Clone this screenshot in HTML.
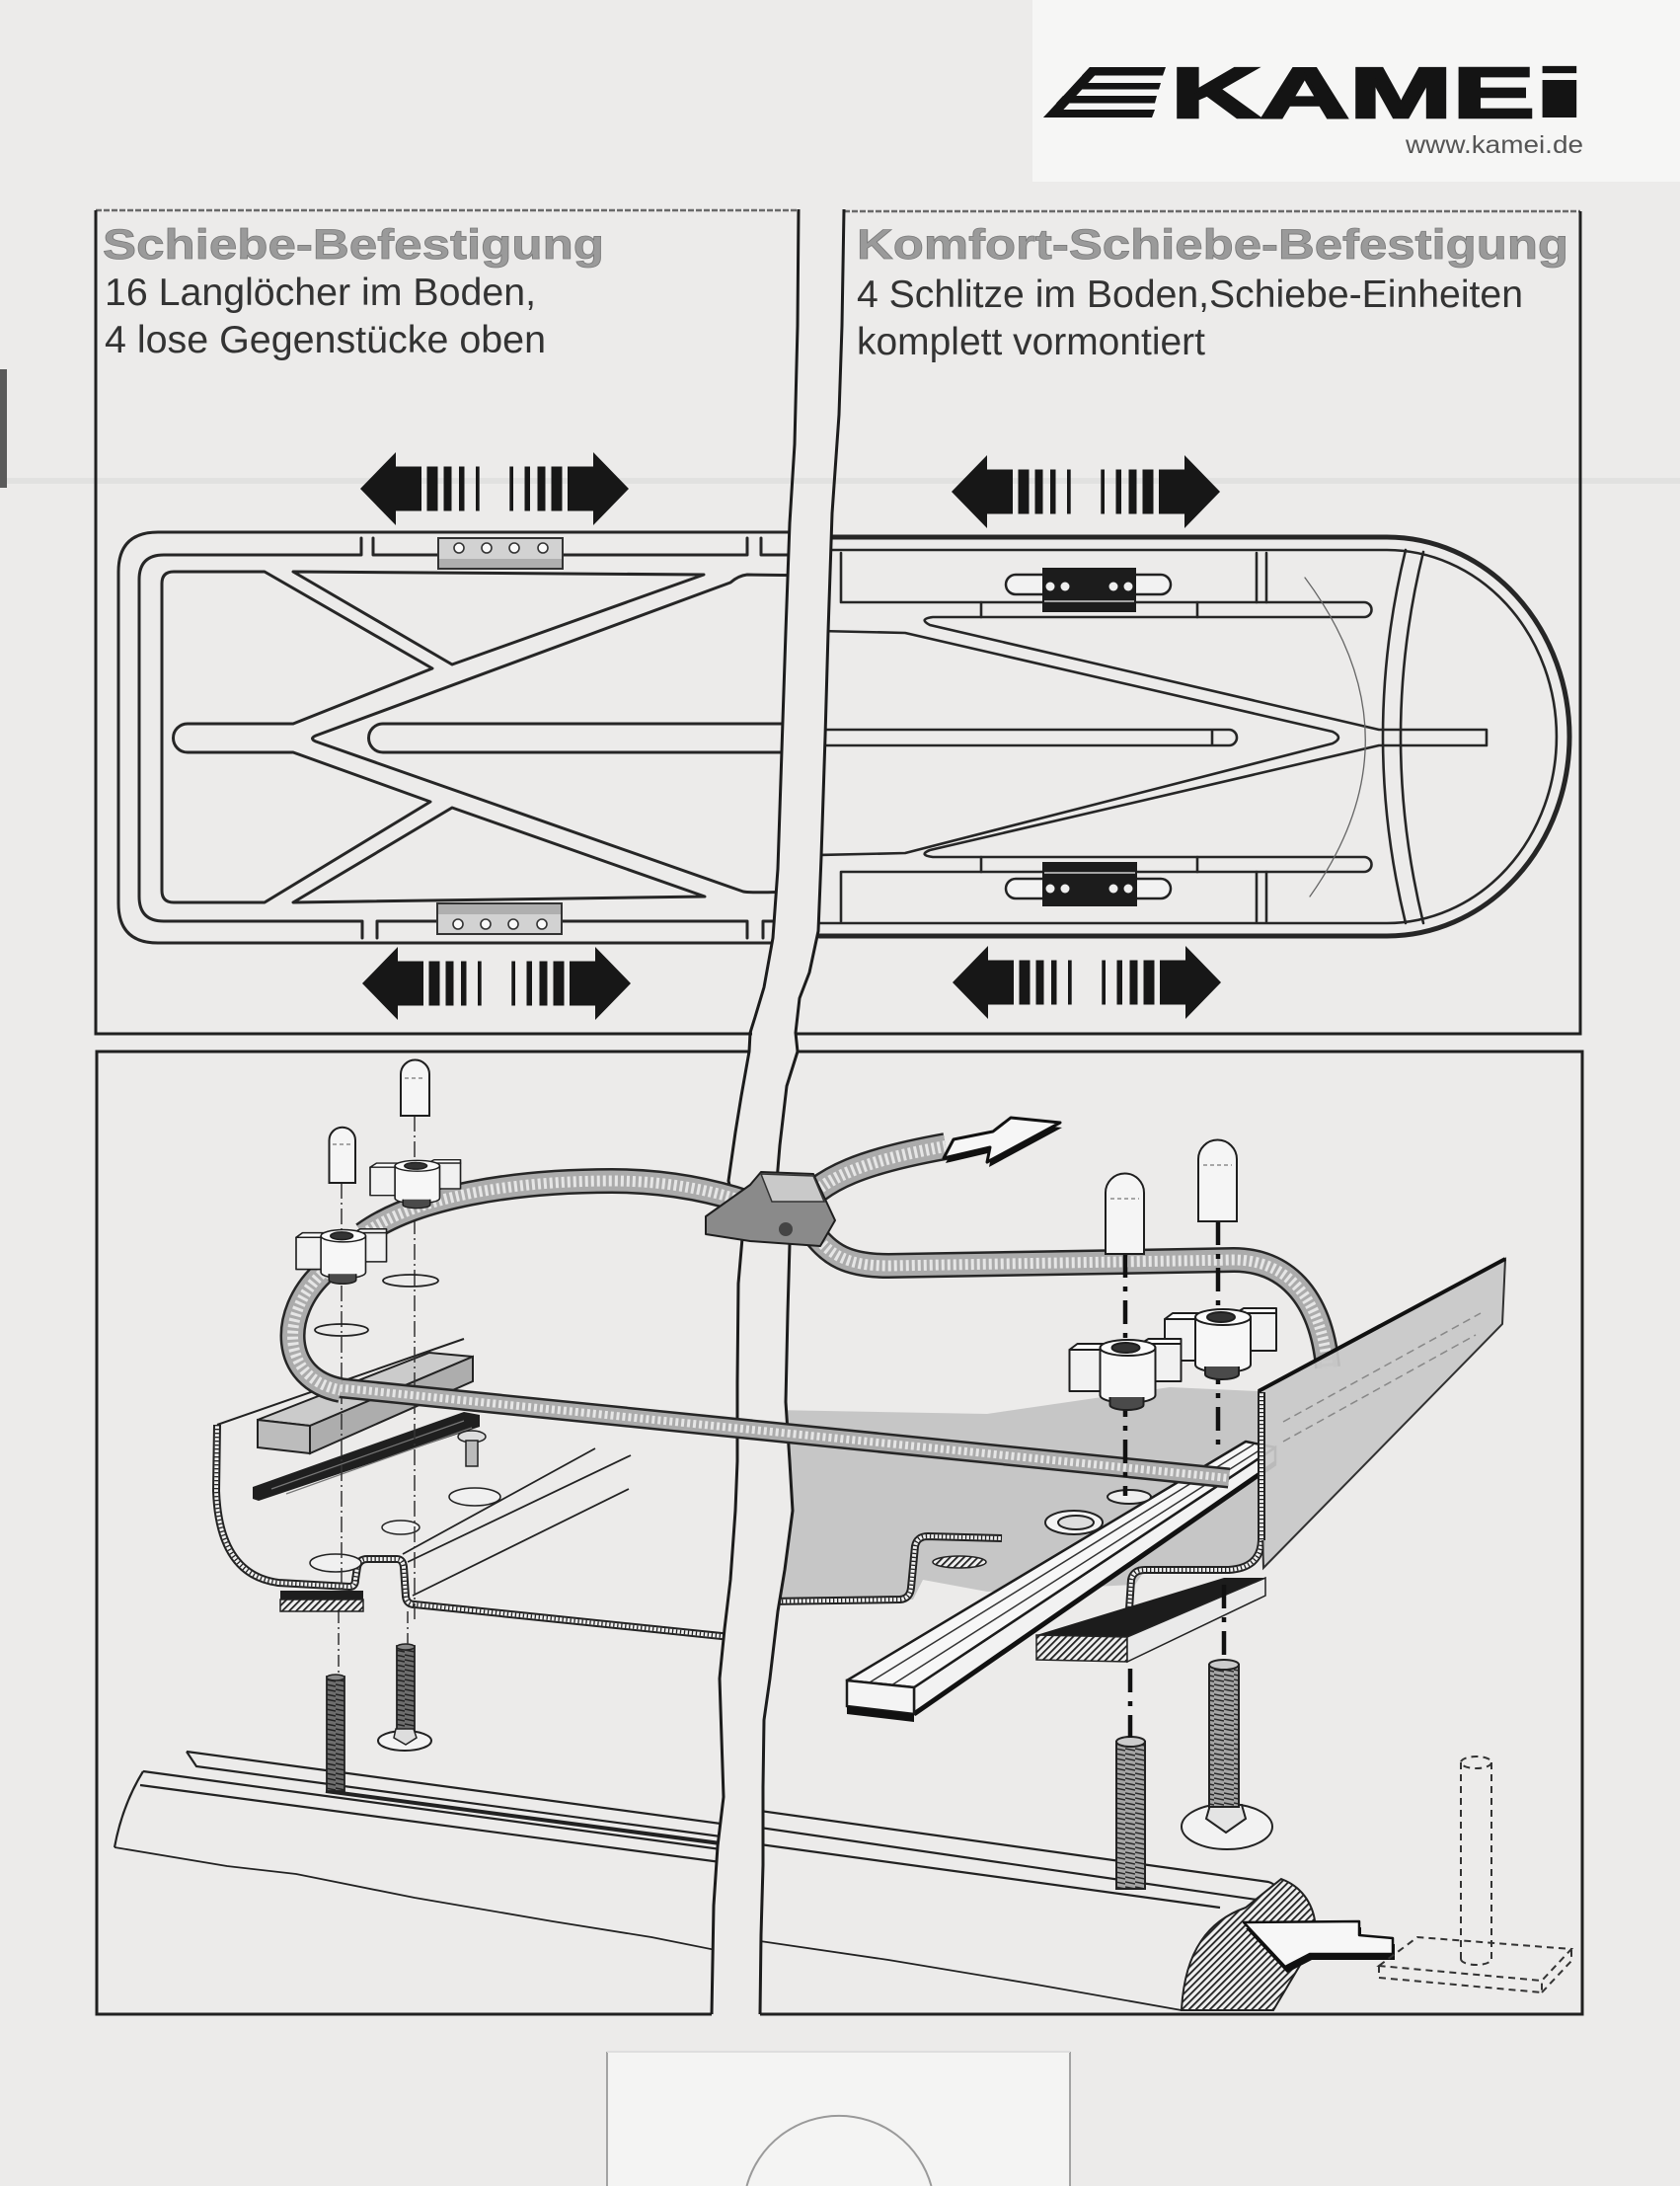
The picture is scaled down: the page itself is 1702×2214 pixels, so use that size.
<!DOCTYPE html>
<html><head><meta charset="utf-8">
<style>
html,body{margin:0;padding:0;background:#ecebea;overflow:hidden;}
svg{display:block;}
</style></head><body>
<svg xmlns="http://www.w3.org/2000/svg" xmlns:xlink="http://www.w3.org/1999/xlink" width="1702" height="2214" viewBox="0 0 1702 2214">
<defs>
<clipPath id="cl"><polygon points="0,0 809,0 809,212 808,330 805,450 800,530 796,640 792,760 788,880 783,950 774,1000 765,1030 760,1046 759,1065 751,1110 745,1147 738,1196 752,1254 748,1300 747,1400 747,1480 745,1530 740,1600 734,1650 729,1700 731,1760 733,1820 727,1870 723,1930 721,2040 721,2214 0,2214"/></clipPath>
<clipPath id="cr"><polygon points="855,0 855,212 853,330 850,420 843,520 839,640 836,746 832,868 829,943 820,985 810,1011 806,1046 808,1065 797,1100 790,1160 787,1196 800,1260 798,1330 796,1420 800,1480 803,1530 795,1590 788,1632 780,1700 774,1742 773,1810 773,1889 771,1960 770,2040 770,2214 1702,2214 1702,0"/></clipPath>
<pattern id="hat" width="5" height="5" patternUnits="userSpaceOnUse" patternTransform="rotate(45)"><rect width="5" height="5" fill="#f0f0f0"/><rect width="1.8" height="5" fill="#222"/></pattern>
<pattern id="thr" width="10" height="5" patternUnits="userSpaceOnUse"><rect width="10" height="5" fill="#a5a5a5"/><line x1="0" y1="1" x2="10" y2="3" stroke="#2a2a2a" stroke-width="1.5"/></pattern>
<pattern id="thrD" width="10" height="5" patternUnits="userSpaceOnUse"><rect width="10" height="5" fill="#6e6e6e"/><line x1="0" y1="1" x2="10" y2="3" stroke="#222" stroke-width="1.5"/></pattern>
<g id="arr" fill="#171717">
 <polygon points="-136,0 -100,-37 -100,-22.5 -74,-22.5 -74,22.5 -100,22.5 -100,37"/>
 <rect x="-68.5" y="-22.5" width="11" height="45"/>
 <rect x="-51.5" y="-22.5" width="8" height="45"/>
 <rect x="-36" y="-22.5" width="5.5" height="45"/>
 <rect x="-19" y="-22.5" width="3.7" height="45"/>
 <polygon points="136,0 100,-37 100,-22.5 74,-22.5 74,22.5 100,22.5 100,37"/>
 <rect x="57.5" y="-22.5" width="11" height="45"/>
 <rect x="43.5" y="-22.5" width="8" height="45"/>
 <rect x="30.5" y="-22.5" width="5.5" height="45"/>
 <rect x="15.3" y="-22.5" width="3.7" height="45"/>
</g>
<g id="knob" stroke="#1e1e1e" stroke-width="2" stroke-linejoin="round" vector-effect="non-scaling-stroke">
 <path d="M0 12 L8 6 L44 6 L40 12 Z" fill="#ffffff"/>
 <path d="M0 12 L40 12 L40 54 L0 54 Z" fill="#f1f1f1"/>
 <path d="M72 6 L80 1 L113 1 L113 6 Z" fill="#ffffff"/>
 <path d="M72 6 L113 6 L113 44 L72 44 Z" fill="#f1f1f1"/>
 <path d="M31 10 L31 58 A28 8 0 0 0 87 58 L87 10 Z" fill="#f7f7f7"/>
 <ellipse cx="59" cy="10" rx="28" ry="8" fill="#fbfbfb"/>
 <ellipse cx="57" cy="10" rx="14" ry="5" fill="#333"/>
 <path d="M41 60 L41 68 A17 5 0 0 0 75 68 L75 60" fill="#4a4a4a"/>
</g>
<path id="s1" d="M368 1250 C420 1212 520 1196 620 1196 C680 1196 730 1207 775 1224"/>
<path id="s2" d="M326 1290 C284 1330 284 1396 345 1408"/>
<path id="s3" d="M338 1405 L1245 1497"/>
<path id="s4" d="M822 1246 C840 1272 860 1282 900 1282 L1250 1276 C1300 1276 1338 1310 1345 1385"/>
<path id="s5" d="M806 1228 C830 1192 880 1175 958 1161"/>
<path id="hL" d="M220 1443 L219 1510 Q222 1595 282 1603 L354 1607 Q360 1607 360 1600 L362 1587 Q364 1579 372 1579 L402 1579 Q408 1579 409 1587 L411 1617 Q412 1625 420 1625 L760 1660"/>
<path id="hR1" d="M780 1622 L912 1620 Q922 1619 923 1608 L927 1566 Q929 1556 940 1556 L1015 1558"/>
<path id="hR2" d="M1142 1660 L1146 1600 Q1148 1590 1160 1590 L1245 1590 Q1277 1588 1278 1560 L1278 1410"/>
</defs>

<!-- background -->
<rect x="0" y="0" width="1702" height="2214" fill="#ecebea"/>
<rect x="1046" y="0" width="656" height="184" fill="#f6f6f5"/>
<rect x="0" y="484" width="1702" height="6" fill="#dadad9" opacity="0.6"/>
<rect x="0" y="374" width="7" height="120" fill="#5a5a5a"/>

<!-- logo -->
<g fill="#141414">
 <polygon points="1104,68 1117,68 1070,119 1057,119"/>
 <polygon points="1104,68 1181,68 1178,76.5 1096,76.5"/>
 <polygon points="1090,84 1176,84 1174,90.5 1084,90.5"/>
 <polygon points="1077,97 1172,97 1170,104.5 1070,104.5"/>
 <polygon points="1065,111 1170,111 1167,119 1057,119"/>
</g>
<text x="1186" y="119" font-family="'Liberation Sans', Arial, sans-serif" font-size="72" font-weight="bold" fill="#141414" stroke="#141414" stroke-width="2.5" textLength="369" lengthAdjust="spacingAndGlyphs">KAME</text>
<text transform="translate(1545,119) scale(3.5,1)" font-family="'Liberation Sans', Arial, sans-serif" font-size="72" font-weight="bold" fill="#141414">i</text>
<text x="1424" y="155" font-family="'Liberation Sans', Arial, sans-serif" font-size="25" fill="#555" textLength="180" lengthAdjust="spacingAndGlyphs">www.kamei.de</text>

<!-- panel texts -->
<g font-family="'Liberation Sans', Arial, sans-serif">
 <text x="104" y="262" font-size="43" font-weight="bold" fill="#9a9a9a" stroke="#7a7a7a" stroke-width="0.8" textLength="508" lengthAdjust="spacingAndGlyphs">Schiebe-Befestigung</text>
 <text x="106" y="309" font-size="39" fill="#333" textLength="437" lengthAdjust="spacingAndGlyphs">16 Langlöcher im Boden,</text>
 <text x="106" y="357" font-size="39" fill="#333" textLength="447" lengthAdjust="spacingAndGlyphs">4 lose Gegenstücke oben</text>
 <text x="868" y="262" font-size="43" font-weight="bold" fill="#9a9a9a" stroke="#7a7a7a" stroke-width="0.8" textLength="721" lengthAdjust="spacingAndGlyphs">Komfort-Schiebe-Befestigung</text>
 <text x="868" y="311" font-size="39" fill="#333" textLength="675" lengthAdjust="spacingAndGlyphs">4 Schlitze im Boden,Schiebe-Einheiten</text>
 <text x="868" y="359" font-size="39" fill="#333" textLength="353" lengthAdjust="spacingAndGlyphs">komplett vormontiert</text>
</g>

<!-- panel borders -->
<g fill="none" stroke="#202020" stroke-width="3">
 <path d="M97 213 L809 213 M855 214 L1601 214" stroke="#6a6a6a" stroke-width="2.5" stroke-dasharray="6 2"/>
 <path d="M97 213 L97 1047 L762 1047"/>
 <path d="M806 1047 L1601 1047 L1601 214"/>
 <path d="M759 1065 L98 1065 L98 2040 L721 2040"/>
 <path d="M808 1065 L1603 1065 L1603 2040 L770 2040"/>
</g>

<!-- arrows -->
<use href="#arr" xlink:href="#arr" transform="translate(501,495)"/>
<use href="#arr" xlink:href="#arr" transform="translate(503,996)"/>
<use href="#arr" xlink:href="#arr" transform="translate(1100,498)"/>
<use href="#arr" xlink:href="#arr" transform="translate(1101,995)"/>

<!-- LEFT TOP FRAME -->
<g clip-path="url(#cl)">
 <g fill="none" stroke="#262626" stroke-width="3" stroke-linejoin="round" stroke-linecap="round">
  <path d="M830 539 L160 539 Q120 539 120 579 L120 915 Q120 955 160 955 L830 955"/>
  <path d="M366 545 L366 562 L166 562 Q141 562 141 587 L141 908 Q141 933 166 933 L367 933 L367 950"/>
  <path d="M378 545 L378 562 L757 562 L757 545"/>
  <path d="M771 545 L771 562 L830 562"/>
  <path d="M382 950 L382 933 L757 933 L757 950"/>
  <path d="M773 950 L773 933 L830 933"/>
  <path d="M176 579 L268 579 L438 677 L297 733 L190 733 A14.5 14.5 0 0 0 190 762 L297 762 L436 812 L268 914 L176 914 Q164 914 164 902 L164 591 Q164 579 176 579 Z"/>
  <path d="M297 579 L713 582 L458 673 Z"/>
  <path d="M297 914 L714 908 L458 818 Z"/>
  <path d="M830 583 L757 582 Q748 583 740 590 L320 745 Q313 748 320 751 L753 903 Q762 905 830 902"/>
  <path d="M830 733 L388 733 A14.5 14.5 0 0 0 388 762 L830 762"/>
 </g>
 <rect x="444" y="545" width="126" height="31" fill="#d2d2d2" stroke="#333" stroke-width="2"/>
 <rect x="445" y="566" width="124" height="9" fill="#afafaf"/>
 <g fill="#fafafa" stroke="#333" stroke-width="1.6">
  <circle cx="465" cy="555" r="5"/><circle cx="493" cy="555" r="5"/><circle cx="521" cy="555" r="5"/><circle cx="550" cy="555" r="5"/>
 </g>
 <rect x="443" y="915" width="126" height="31" fill="#d2d2d2" stroke="#333" stroke-width="2"/>
 <rect x="444" y="916" width="124" height="10" fill="#afafaf"/>
 <g fill="#fafafa" stroke="#333" stroke-width="1.6">
  <circle cx="464" cy="936" r="5"/><circle cx="492" cy="936" r="5"/><circle cx="520" cy="936" r="5"/><circle cx="549" cy="936" r="5"/>
 </g>
</g>

<!-- RIGHT TOP FRAME -->
<g clip-path="url(#cr)">
 <g fill="none" stroke="#262626" stroke-width="2.6" stroke-linejoin="round" stroke-linecap="round">
  <path d="M830 544 L1405 544 A185 202 0 0 1 1405 948 L830 948" stroke-width="5"/>
  <path d="M830 557 L1405 557 A172 189 0 0 1 1405 935 L830 935"/>
  <path d="M852 560 L852 610 L1382 610 A7.5 7.5 0 0 1 1382 625 L945 625 Q930 627 942 633 L1397 739 L1506 739 L1506 755 L1397 755 L942 861 Q930 866 945 868 L1382 868 A7.5 7.5 0 0 1 1382 883 L852 883 L852 933"/>
  <path d="M1273 560 L1273 610 M1283 560 L1283 610 M1273 883 L1273 933 M1283 883 L1283 933"/>
  <path d="M994 610 L994 625 M1213 610 L1213 625 M994 868 L994 883 M1213 868 L1213 883"/>
  <path d="M830 639 L917 641 L1350 741 Q1362 747 1350 753 L917 864 L830 866"/>
  <path d="M830 739 L1245 739 A8 8 0 0 1 1245 755 L830 755 M1228 739 L1228 755"/>
  <path d="M1424 557 Q1378 746 1424 935 M1442 559 Q1396 746 1442 935"/>
  <path d="M1322 585 Q1442 746 1327 908" stroke="#666" stroke-width="1.3"/>
 </g>
 <rect x="1019" y="582" width="167" height="20" rx="10" fill="#f2f2f2" stroke="#222" stroke-width="2.5"/>
 <rect x="1056" y="575" width="95" height="45" fill="#1c1c1c"/>
 <line x1="1058" y1="609" x2="1149" y2="609" stroke="#cfcfcf" stroke-width="1.5"/>
 <g fill="#eee"><circle cx="1064" cy="594" r="4.5"/><circle cx="1079" cy="594" r="4.5"/><circle cx="1128" cy="594" r="4.5"/><circle cx="1143" cy="594" r="4.5"/></g>
 <rect x="1019" y="890" width="167" height="20" rx="10" fill="#f2f2f2" stroke="#222" stroke-width="2.5"/>
 <rect x="1056" y="873" width="96" height="45" fill="#1c1c1c"/>
 <line x1="1058" y1="884" x2="1150" y2="884" stroke="#cfcfcf" stroke-width="1.5"/>
 <g fill="#eee"><circle cx="1064" cy="900" r="4.5"/><circle cx="1079" cy="900" r="4.5"/><circle cx="1128" cy="900" r="4.5"/><circle cx="1143" cy="900" r="4.5"/></g>
</g>

<!-- BOTTOM LEFT STATIC -->
<g clip-path="url(#cl)">
 <g fill="none" stroke="#222" stroke-width="2.2">
  <path d="M189 1774 L760 1851"/>
  <path d="M189 1774 L199 1789 L760 1864"/>
  <path d="M145 1794 L760 1877"/>
  <path d="M142 1808 L760 1890"/>
  <path d="M145 1794 Q124 1828 116 1871"/>
  <path d="M116 1871 L230 1890 L300 1898 L420 1922 L560 1946 L660 1962 L760 1982" stroke-width="1.8"/>
  <path d="M330 1814 L760 1871" stroke-width="4"/>
 </g>
 <rect x="331" y="1698" width="18" height="116" fill="url(#thrD)" stroke="#222" stroke-width="1.8"/>
 <ellipse cx="340" cy="1699" rx="9" ry="3" fill="#888" stroke="#222" stroke-width="1.5"/>
 <rect x="402" y="1667" width="18" height="86" fill="url(#thrD)" stroke="#222" stroke-width="1.8"/>
 <ellipse cx="411" cy="1668" rx="9" ry="3" fill="#888" stroke="#222" stroke-width="1.5"/>
 <ellipse cx="410" cy="1763" rx="27" ry="10" fill="#f3f3f3" stroke="#222" stroke-width="2"/>
 <path d="M401 1751 L419 1751 L422 1760 L411 1767 L399 1760 Z" fill="#ddd" stroke="#222" stroke-width="1.5"/>
 <path d="M343 1632 L343 1698 M413 1632 L413 1667" stroke="#333" stroke-width="1.5" stroke-dasharray="12 4 2 4"/>
 <path d="M408 1574 L603 1467 M413 1582 L639 1474 M418 1616 L637 1508" stroke="#222" stroke-width="1.8" fill="none"/>
 <path d="M220 1443 L470 1356" stroke="#222" stroke-width="2"/>
 <g fill="none">
  <use href="#hL" xlink:href="#hL" stroke="#222" stroke-width="8"/>
  <use href="#hL" xlink:href="#hL" stroke="#efefef" stroke-width="4"/>
  <use href="#hL" xlink:href="#hL" stroke="#222" stroke-width="4" stroke-dasharray="1.3 2.7"/>
 </g>
 <rect x="284" y="1611" width="84" height="9" fill="#1e1e1e"/>
 <rect x="284" y="1620" width="84" height="12" fill="url(#hat)" stroke="#222" stroke-width="1.5"/>
 <g fill="#f0f0f0" stroke="#222" stroke-width="1.5">
  <ellipse cx="340" cy="1583" rx="26" ry="9"/><ellipse cx="406" cy="1547" rx="19" ry="7"/><ellipse cx="481" cy="1516" rx="26" ry="9"/>
 </g>
 <polygon points="256,1506 470,1430 486,1433 486,1445 262,1520 256,1518" fill="#1f1f1f"/>
 <path d="M275 1508 L470 1439 M290 1513 L478 1446" stroke="#777" stroke-width="1.2" fill="none"/>
 <polygon points="261,1438 435,1370 479,1374 314,1444" fill="#cbcbcb" stroke="#222" stroke-width="2"/>
 <polygon points="314,1444 479,1374 479,1399 314,1472" fill="#adadad" stroke="#222" stroke-width="2"/>
 <polygon points="261,1438 314,1444 314,1472 261,1466" fill="#bcbcbc" stroke="#222" stroke-width="2"/>
 <ellipse cx="478" cy="1455" rx="14" ry="6" fill="#ddd" stroke="#222" stroke-width="1.5"/>
 <rect x="472" y="1459" width="12" height="26" fill="#bbb" stroke="#222" stroke-width="1.5"/>
 <path d="M420 1130 L420 1640 M346 1198 L346 1612" stroke="#333" stroke-width="1.5" stroke-dasharray="16 4 2 4"/>
 <ellipse cx="416" cy="1297" rx="28" ry="6" fill="none" stroke="#222" stroke-width="1.8"/>
 <ellipse cx="346" cy="1347" rx="27" ry="6" fill="none" stroke="#222" stroke-width="1.8"/>
</g>

<!-- BOTTOM RIGHT STATIC -->
<g clip-path="url(#cr)">
 <path d="M780 1428 L1000 1432 L1185 1405 L1275 1409 L1278 1575 Q1270 1590 1240 1590 L1160 1590 L1150 1605 L1000 1612 L935 1600 L925 1620 L780 1622 Z" fill="#c6c6c6"/>
 <g fill="none">
  <use href="#hR1" xlink:href="#hR1" stroke="#222" stroke-width="8"/>
  <use href="#hR1" xlink:href="#hR1" stroke="#efefef" stroke-width="4"/>
  <use href="#hR1" xlink:href="#hR1" stroke="#222" stroke-width="4" stroke-dasharray="1.3 2.7"/>
  <use href="#hR2" xlink:href="#hR2" stroke="#222" stroke-width="8"/>
  <use href="#hR2" xlink:href="#hR2" stroke="#efefef" stroke-width="4"/>
  <use href="#hR2" xlink:href="#hR2" stroke="#222" stroke-width="4" stroke-dasharray="1.3 2.7"/>
 </g>
 <ellipse cx="972" cy="1582" rx="27" ry="6" fill="url(#hat)" stroke="#222" stroke-width="1.5"/>
 <polygon points="1050,1656 1240,1598 1282,1598 1142,1658" fill="#1c1c1c"/>
 <polygon points="1050,1656 1142,1658 1142,1683 1050,1681" fill="url(#hat)" stroke="#222" stroke-width="1.5"/>
 <polygon points="1142,1658 1282,1598 1282,1616 1142,1683" fill="#eaeaea" stroke="#222" stroke-width="1.5"/>
 <!-- rail -->
 <polygon points="926,1709 1292,1466 1292,1482 926,1736" fill="#f2f2f2" stroke="#1c1c1c" stroke-width="2.5"/>
 <path d="M926 1736 L1292 1482" stroke="#111" stroke-width="5"/>
 <polygon points="858,1702 1262,1460 1292,1466 926,1709" fill="#f7f7f7" stroke="#1c1c1c" stroke-width="2.5" stroke-linejoin="round"/>
 <path d="M881 1704 L1270 1463 M903 1707 L1282 1465" stroke="#333" stroke-width="1.5" fill="none"/>
 <polygon points="858,1702 926,1709 926,1736 858,1728" fill="#f4f4f4" stroke="#1c1c1c" stroke-width="2.5"/>
 <polygon points="858,1728 926,1736 926,1744 858,1736" fill="#111"/>
 <ellipse cx="1088" cy="1542" rx="29" ry="12" fill="#f4f4f4" stroke="#222" stroke-width="2"/>
 <ellipse cx="1090" cy="1542" rx="18" ry="7" fill="#ddd" stroke="#222" stroke-width="2"/>
 <ellipse cx="1144" cy="1516" rx="22" ry="7" fill="#eee" stroke="#222" stroke-width="2"/>
 <!-- roof bar right -->
 <g fill="none" stroke="#222" stroke-width="2.2">
  <path d="M770 1834 L1285 1906 Q1298 1910 1290 1920 L1280 1925"/>
  <path d="M770 1851 L1280 1925"/>
  <path d="M770 1868 L1236 1932"/>
  <path d="M770 1966 L900 1985 L1050 2010 L1197 2036" stroke-width="1.8"/>
 </g>
 <path d="M1197 2036 C1200 1975 1225 1945 1262 1932 L1298 1903 C1322 1912 1336 1935 1332 1965 L1290 2036 Z" fill="url(#hat)" stroke="#222" stroke-width="2"/>
 <polygon points="1262,1953 1379,1952 1379,1966 1413,1969 1413,1985 1329,1985 1304,1998" fill="#111"/>
 <polygon points="1260,1947 1377,1946 1377,1960 1411,1963 1411,1979 1327,1979 1302,1992" fill="#f7f7f7" stroke="#111" stroke-width="2.5" stroke-linejoin="round"/>
 <!-- dashed pin and plate -->
 <g fill="none" stroke="#333" stroke-width="2" stroke-dasharray="7 5">
  <path d="M1480 1785 L1480 1984 M1511 1785 L1511 1984"/>
  <ellipse cx="1495.5" cy="1785" rx="15.5" ry="6"/>
  <path d="M1480 1984 A15.5 6 0 0 0 1511 1984"/>
  <path d="M1397 1991 L1436 1962 L1592 1974 L1562 2006 Z"/>
  <path d="M1397 1991 L1397 2003 L1562 2018 L1562 2006 M1562 2018 L1592 1986 L1592 1974"/>
 </g>
 <!-- right bolts -->
 <rect x="1131" y="1764" width="29" height="149" fill="url(#thr)" stroke="#222" stroke-width="2"/>
 <ellipse cx="1145.5" cy="1764" rx="14.5" ry="5" fill="#ccc" stroke="#222" stroke-width="2"/>
 <ellipse cx="1243" cy="1850" rx="46" ry="23" fill="#f2f2f2" stroke="#222" stroke-width="2"/>
 <path d="M1226 1828 L1258 1828 L1262 1842 L1242 1856 L1222 1842 Z" fill="#e4e4e4" stroke="#222" stroke-width="2"/>
 <rect x="1225" y="1686" width="30" height="144" fill="url(#thr)" stroke="#222" stroke-width="2"/>
 <ellipse cx="1240" cy="1686" rx="15" ry="5" fill="#ccc" stroke="#222" stroke-width="2"/>
 <path d="M1145 1690 L1145 1760 M1240 1605 L1240 1682" stroke="#111" stroke-width="4.5" stroke-dasharray="24 9 5 9"/>
</g>

<!-- crack lines -->
<g fill="none" stroke="#1c1c1c" stroke-width="3" stroke-linejoin="round">
 <polyline points="809,212 808,330 805,450 800,530 796,640 792,760 788,880 783,950 774,1000 765,1030 760,1046 759,1065 751,1110 745,1147 738,1196 752,1254 748,1300 747,1400 747,1480 745,1530 740,1600 734,1650 729,1700 731,1760 733,1820 727,1870 723,1930 721,2040"/>
 <polyline points="855,212 853,330 850,420 843,520 839,640 836,746 832,868 829,943 820,985 810,1011 806,1046 808,1065 797,1100 790,1160 787,1196 800,1260 798,1330 796,1420 800,1480 803,1530 795,1590 788,1632 780,1700 774,1742 773,1810 773,1889 771,1960 770,2040"/>
</g>

<!-- straps -->
<g fill="none">
 <use href="#s3" xlink:href="#s3" stroke="#262626" stroke-width="21"/>
 <use href="#s3" xlink:href="#s3" stroke="#ababab" stroke-width="16"/>
 <use href="#s3" xlink:href="#s3" stroke="#e6e6e6" stroke-width="8" stroke-dasharray="3 3"/>
 <use href="#s2" xlink:href="#s2" stroke="#262626" stroke-width="26"/>
 <use href="#s2" xlink:href="#s2" stroke="#ababab" stroke-width="21"/>
 <use href="#s2" xlink:href="#s2" stroke="#e6e6e6" stroke-width="11" stroke-dasharray="3 3"/>
 <use href="#s1" xlink:href="#s1" stroke="#262626" stroke-width="26"/>
 <use href="#s1" xlink:href="#s1" stroke="#ababab" stroke-width="21"/>
 <use href="#s1" xlink:href="#s1" stroke="#e6e6e6" stroke-width="11" stroke-dasharray="3 3"/>
 <use href="#s4" xlink:href="#s4" stroke="#262626" stroke-width="26"/>
 <use href="#s4" xlink:href="#s4" stroke="#ababab" stroke-width="21"/>
 <use href="#s4" xlink:href="#s4" stroke="#e6e6e6" stroke-width="11" stroke-dasharray="3 3"/>
 <use href="#s5" xlink:href="#s5" stroke="#262626" stroke-width="28"/>
 <use href="#s5" xlink:href="#s5" stroke="#ababab" stroke-width="23"/>
 <use href="#s5" xlink:href="#s5" stroke="#e6e6e6" stroke-width="12" stroke-dasharray="3 3"/>
</g>

<!-- buckle -->
<polygon points="715,1232 715,1250 760,1257 831,1262 846,1236 824,1189 771,1187 760,1200" fill="#8a8a8a" stroke="#1e1e1e" stroke-width="2" stroke-linejoin="round"/>
<polygon points="771,1189 824,1191 835,1217 782,1217" fill="#c9c9c9" stroke="#333" stroke-width="1.5"/>
<circle cx="796" cy="1245" r="7" fill="#444"/>

<!-- motion arrow -->
<polygon points="958,1178 968,1159 1008,1151 1026,1137 1076,1142 1002,1182 1005,1167" fill="#111"/>
<polygon points="956,1173 966,1154 1006,1146 1024,1132 1074,1137 1000,1177 1003,1162" fill="#f6f6f6" stroke="#111" stroke-width="3" stroke-linejoin="round"/>

<!-- side wall -->
<polygon points="1275,1409 1525,1275 1522,1341 1280,1588" fill="#c9c9c9" opacity="0.92" stroke="#222" stroke-width="2"/>
<path d="M1275 1409 L1525 1275" stroke="#111" stroke-width="4"/>
<path d="M1300 1440 L1500 1330 M1300 1460 L1495 1352" stroke="#888" stroke-width="1.5" stroke-dasharray="8 5" fill="none"/>
<g fill="none">
 <path d="M1278 1410 L1278 1560" stroke="#222" stroke-width="8"/>
 <path d="M1278 1410 L1278 1560" stroke="#efefef" stroke-width="4"/>
 <path d="M1278 1410 L1278 1560" stroke="#222" stroke-width="4" stroke-dasharray="1.3 2.7"/>
</g>

<!-- dash-dot lines over straps -->
<path d="M1140 1270 L1140 1515 M1234 1237 L1234 1470" stroke="#111" stroke-width="4.5" stroke-dasharray="24 9 5 9" fill="none"/>

<!-- caps -->
<g fill="#f5f5f5" stroke="#1e1e1e" stroke-width="2">
 <path d="M406 1130 L406 1088 A14.5 14.5 0 0 1 435 1088 L435 1130 Z"/>
 <path d="M333.5 1198 L333.5 1155 A13.25 13.25 0 0 1 360 1155 L360 1198 Z"/>
 <path d="M1120 1270 L1120 1208 A19.5 19.5 0 0 1 1159 1208 L1159 1270 Z"/>
 <path d="M1214 1237 L1214 1174 A19.5 19.5 0 0 1 1253 1174 L1253 1237 Z"/>
</g>
<path d="M410 1092 L431 1092 M337 1159 L356 1159 M1125 1214 L1154 1214 M1219 1180 L1248 1180" stroke="#777" stroke-width="1.2" stroke-dasharray="4 3"/>

<!-- knobs -->
<use href="#knob" xlink:href="#knob" transform="translate(375,1174) scale(0.81,0.68)"/>
<use href="#knob" xlink:href="#knob" transform="translate(300,1244) scale(0.81,0.77)"/>
<use href="#knob" xlink:href="#knob" transform="translate(1180,1324)"/>
<use href="#knob" xlink:href="#knob" transform="translate(1083.5,1355)"/>

<!-- bottom tab -->
<rect x="615" y="2078" width="469" height="136" fill="#f4f4f3"/>
<path d="M615 2078 L615 2214 M1084 2078 L1084 2214" stroke="#8a8a8a" stroke-width="1.5"/>
<path d="M615 2078 L1084 2078" stroke="#dedede" stroke-width="2"/>
<path d="M756.5 2214 A97 97 0 0 1 943.5 2214" fill="none" stroke="#9a9a9a" stroke-width="2"/>
</svg>
</body></html>
